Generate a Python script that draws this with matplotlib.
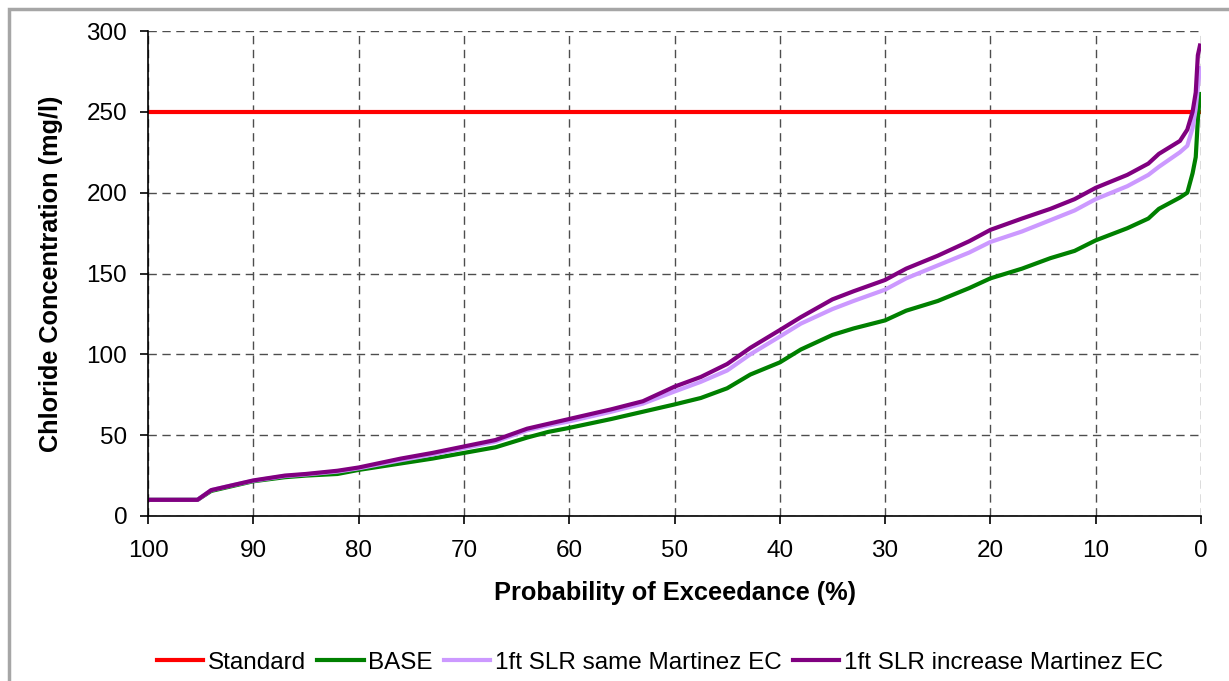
import numpy as np
import matplotlib.pyplot as plt
from matplotlib.patches import Rectangle

plt.rcParams['font.family'] = ['Liberation Sans', 'DejaVu Sans']

#%% Datos (probabilidad de excedencia en %, cloruro en mg/l)
pct = [100, 95.3, 94, 92, 90, 87, 85, 82, 80, 76, 73, 70, 67, 64, 62, 60, 56, 53, 50,
       47.5, 45, 42.8, 40, 38, 35, 33, 30, 28, 25, 22, 20, 17, 14.3, 12, 10, 7, 5, 4,
       2, 1.3, 0.8, 0.5, 0.3, 0.1]

base = [10, 10, 15.5, 18.5, 21.5, 24, 25, 26, 28.5, 32.5, 35.5, 39, 42.5, 48.5, 52, 54.5,
        60, 64.5, 69, 73, 79, 87.5, 95, 103, 112, 116, 121, 127, 133, 141, 147, 153,
        159.5, 164, 170.5, 178, 184, 190, 197, 200, 212, 222, 245, 261]

slr_same = [10, 10, 16, 19, 21.8, 24.7, 25.7, 27.5, 29.5, 34.5, 38, 42, 46, 53, 56, 58.5,
            64.5, 69.5, 77, 83, 90, 100, 111, 119, 128, 133, 140, 147, 155, 163, 169.5,
            176, 183, 189, 196, 204, 211, 216, 225, 229, 240, 252, 265, 277]

slr_incr = [10, 10, 16, 19, 22, 25, 26, 28, 30, 35.5, 39, 43, 47, 54, 57, 60, 66, 71, 80,
            86, 94, 104, 115, 123, 134, 139, 146, 153, 161, 170, 177, 184, 190, 196, 203,
            211, 218, 224, 232, 239, 250, 262, 285, 291]

standard = 250

#%% Grafico
fig = plt.figure(figsize=(12.29, 6.81), dpi=100)
ax = fig.add_axes([148/1229, 1 - 516/681, (1201 - 148)/1229, (516 - 31)/681])

lw = 3.0
ax.plot([100, 0], [standard, standard], color='#ff0000', lw=lw, label='Standard')
ax.plot(pct, base, color='#008000', lw=lw, label='BASE')
ax.plot(pct, slr_same, color='#cc99ff', lw=lw, label='1ft SLR same Martinez EC')
ax.plot(pct, slr_incr, color='#800080', lw=lw, label='1ft SLR increase Martinez EC')

ax.set_xlim(100, 0)
ax.set_ylim(0, 300)
ax.set_xticks(np.arange(100, -1, -10))
ax.set_yticks(np.arange(0, 301, 50))
ax.grid(True, color='0.3', linestyle=(0, (6, 4)), linewidth=1)
ax.set_axisbelow(True)
for s in ['top', 'right']:
    ax.spines[s].set_visible(False)
for s in ['left', 'bottom']:
    ax.spines[s].set_linewidth(1.2)
ax.tick_params(labelsize=17.5, length=6, width=1.2)
ax.tick_params(axis='x', pad=11)
ax.tick_params(axis='y', pad=9)

ax.set_xlabel('Probability of Exceedance (%)', fontsize=18.3, fontweight='bold', labelpad=14)
ax.set_ylabel('Chloride Concentration (mg/l)', fontsize=18.2, fontweight='bold', labelpad=17)

fig.legend(loc='center', bbox_to_anchor=(0.537, 0.027), ncol=4, frameon=False,
           fontsize=17.5, handlelength=1.9, handletextpad=0.2, columnspacing=0.45)

# marco gris de la figura
fig.patches.append(Rectangle((9/1229, -0.05), 1.2, 1 - 9/681 + 0.05, transform=fig.transFigure,
                             fill=False, edgecolor='#a6a6a6', linewidth=2.5))

fig.savefig('out.png', dpi=100)
